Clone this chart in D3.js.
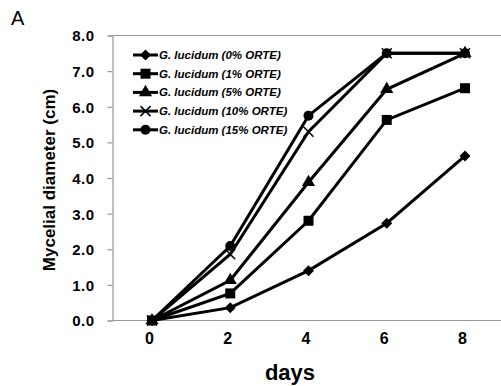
<!DOCTYPE html>
<html>
<head>
<meta charset="UTF-8">
<script src="https://d3js.org/d3.v7.min.js"></script>
<style>
  body { margin: 0; background: #fff; }
  svg { display: block; font-family: "Liberation Sans", Arial, sans-serif; }
  .tick text { font-weight: bold; fill: #000; }
</style>
</head>
<body>
<svg width="501" height="386"></svg>
<script>
// data
const days = [0, 2, 4, 6, 8];
const yTicks = [0, 1, 2, 3, 4, 5, 6, 7, 8];
const seriesNames = ["G. lucidum (0% ORTE)", "G. lucidum (1% ORTE)", "G. lucidum (5% ORTE)",
                     "G. lucidum (10% ORTE)", "G. lucidum (15% ORTE)"];
const markers = ["diamond", "square", "triangle", "cross", "circle"];
const conc0 = [0, 0.36, 1.40, 2.73, 4.62];
const conc1 = [0, 0.76, 2.80, 5.63, 6.52];
const conc5 = [0, 1.13, 3.88, 6.49, 7.50];
const conc10 = [0, 1.86, 5.30, 7.50, 7.50];
const conc15 = [0, 2.09, 5.75, 7.50, 7.50];
const allSeries = [conc0, conc1, conc5, conc10, conc15];

const svg = d3.select("svg");
const plotL = 112.5, plotR = 501, plotT = 35.5, plotB = 320.5;

const x = d3.scaleLinear().domain([0, 8]).range([152, 465]);
const y = d3.scaleLinear().domain([0, 8]).range([plotB, plotT]);

// frame
svg.append("line").attr("x1", plotL).attr("x2", plotR).attr("y1", plotT).attr("y2", plotT)
  .attr("stroke", "#999").attr("stroke-width", 1.2);
svg.append("line").attr("x1", plotL).attr("x2", plotR).attr("y1", plotB).attr("y2", plotB)
  .attr("stroke", "#999").attr("stroke-width", 1.2);

// y axis
const yAxis = svg.append("g").attr("transform", `translate(${plotL},0)`)
  .call(d3.axisLeft(y).tickValues(yTicks).tickSize(5).tickPadding(13).tickFormat(d3.format(".1f")));
yAxis.select(".domain").attr("stroke", "#999").attr("stroke-width", 1.2);
yAxis.selectAll(".tick line").attr("stroke", "#999").attr("stroke-width", 1.2);
yAxis.selectAll(".tick text").attr("font-size", 15).attr("letter-spacing", 0.5).attr("dy", "0.36em");

// x axis
const xAxis = svg.append("g").attr("transform", `translate(0,${plotB})`)
  .call(d3.axisBottom(x).tickValues(days).tickSize(0).tickPadding(12));
xAxis.select(".domain").remove();
xAxis.selectAll(".tick text").attr("font-size", 16).attr("dx", -3);

// axis titles
svg.append("text").attr("x", 290).attr("y", 380).attr("text-anchor", "middle")
  .attr("font-size", 22).attr("font-weight", "bold").text("days");
svg.append("text").attr("transform", "translate(55,180) rotate(-90)").attr("text-anchor", "middle")
  .attr("font-size", 17).attr("font-weight", "bold").text("Mycelial diameter (cm)");
svg.append("text").attr("x", 11).attr("y", 25).attr("font-size", 20).text("A");

// marker drawing
function drawMarker(g, type, cx, cy) {
  if (type === "diamond") {
    g.append("path").attr("d", `M${cx},${cy - 5.5}L${cx + 5.5},${cy}L${cx},${cy + 5.5}L${cx - 5.5},${cy}Z`)
      .attr("fill", "#000");
  } else if (type === "square") {
    g.append("rect").attr("x", cx - 5).attr("y", cy - 5).attr("width", 10).attr("height", 10).attr("fill", "#000");
  } else if (type === "triangle") {
    g.append("path").attr("d", d3.symbol(d3.symbolTriangle, 75)())
      .attr("transform", `translate(${cx},${cy})`).attr("fill", "#000");
  } else if (type === "cross") {
    g.append("path").attr("d", `M${cx - 5},${cy - 5}L${cx + 5},${cy + 5}M${cx - 5},${cy + 5}L${cx + 5},${cy - 5}`)
      .attr("stroke", "#000").attr("stroke-width", 1.5);
  } else {
    g.append("circle").attr("cx", cx).attr("cy", cy).attr("r", 5).attr("fill", "#000");
  }
}

const line = d3.line().x((d, i) => x(days[i])).y(d => y(d));

allSeries.forEach((vals, si) => {
  const g = svg.append("g");
  g.append("path").datum(vals).attr("d", line)
    .attr("fill", "none").attr("stroke", "#000").attr("stroke-width", 3);
  vals.forEach((v, i) => drawMarker(g, markers[si], x(days[i]), y(v)));
});

// legend
seriesNames.forEach((name, i) => {
  const ly = 55 + i * 18.7;
  const g = svg.append("g");
  g.append("line").attr("x1", 133).attr("x2", 158).attr("y1", ly).attr("y2", ly)
    .attr("stroke", "#000").attr("stroke-width", 3);
  drawMarker(g, markers[i], 145.5, ly);
  g.append("text").attr("x", 159).attr("y", ly + 4).attr("font-size", 11.5)
    .attr("font-weight", "bold").attr("font-style", "italic").text(name);
});
</script>
</body>
</html>
